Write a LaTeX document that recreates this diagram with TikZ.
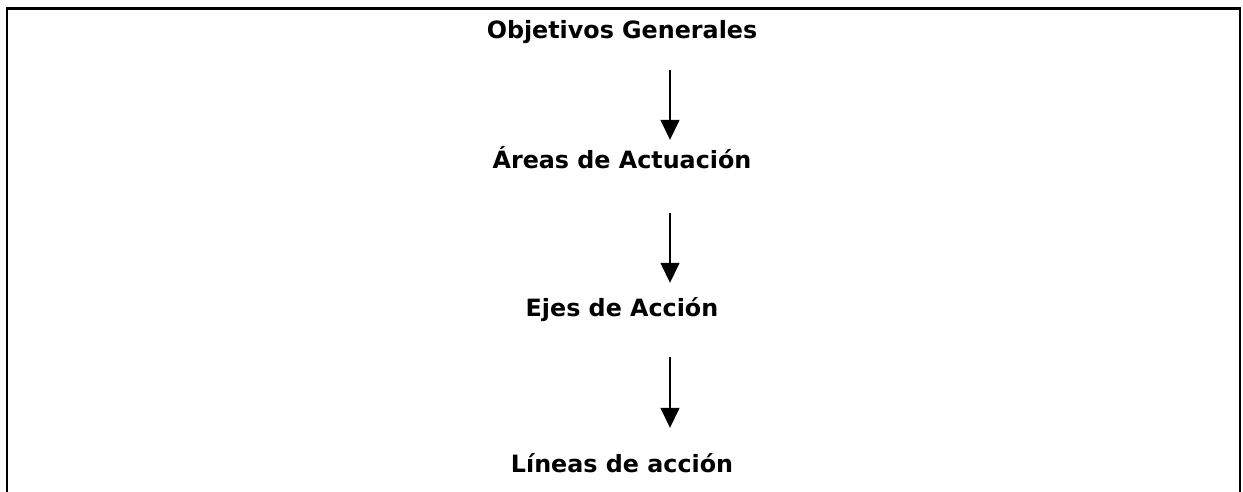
\documentclass[tikz,border=0pt]{standalone}
\usepackage{fontspec}
\setmainfont{DejaVu Sans}
\usepackage{tikz}
\usetikzlibrary{arrows.meta, positioning, calc}

\begin{document}
\begin{tikzpicture}[x=1pt, y=-1pt,
    nivel/.style={inner sep=0pt, anchor=base, text height=18pt, text depth=6pt, font=\fontsize{23.8}{28}\selectfont\bfseries},
    flecha/.style={-{Triangle[length=20pt, width=19pt]}, line width=1.5pt},
    marco/.style={line width=2.2pt}
]
\useasboundingbox (0,0) rectangle (1243,492);

% Marco
\draw[marco] (7,492) -- (7,8.5) -- (1240,8.5) -- (1240,492);

% Niveles
\node[nivel] (obj) at (622,39) {Objetivos Generales};
\node[nivel] (areas) at (622,168) {Áreas de Actuación};
\node[nivel] (ejes) at (622,316) {Ejes de Acción};
\node[nivel] (lineas) at (622,472) {Líneas de acción};

% Flechas
\coordinate (col) at (670,0);
\draw[flecha, shorten <=25pt, shorten >=10pt] (obj.south -| col) -- (areas.north -| col);
\draw[flecha, shorten <=39pt, shorten >=15pt] (areas.south -| col) -- (ejes.north -| col);
\draw[flecha, shorten <=35pt, shorten >=26pt] (ejes.south -| col) -- (lineas.north -| col);

\end{tikzpicture}
\end{document}
